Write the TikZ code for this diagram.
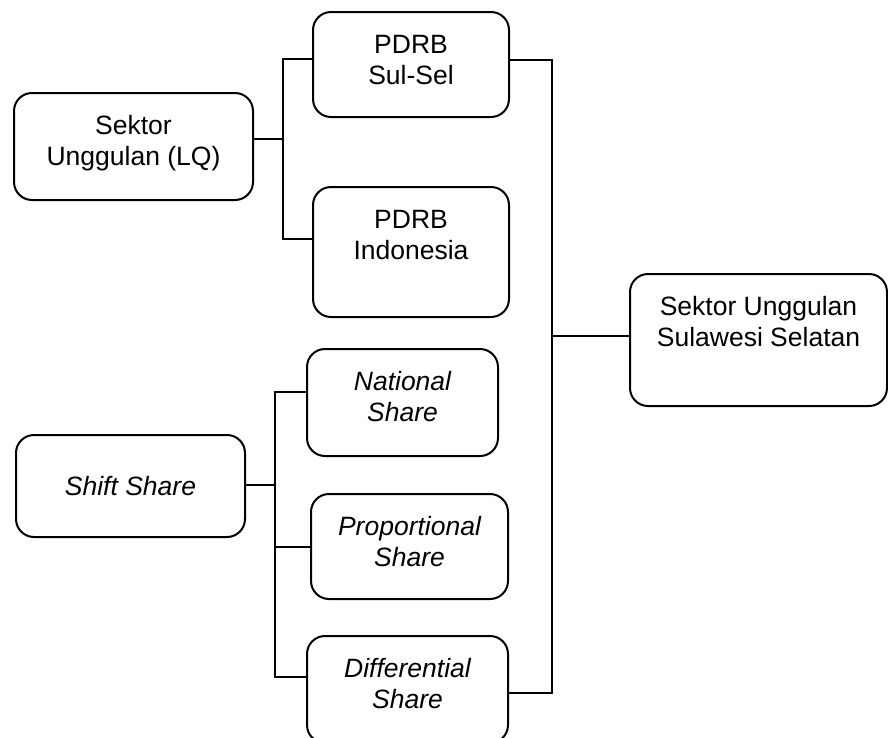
\documentclass[tikz,border=0pt]{standalone}
\usepackage{fontspec}
\setmainfont{Liberation Sans}
\newcommand{\toptext}[3]{\parbox[c][#2pt][t]{#1pt}{\centering\rule{0pt}{41pt}#3}}

\begin{document}
\begin{tikzpicture}[x=1pt, y=-1pt, line width=2pt,
    box/.style={draw, rounded corners=18pt, inner sep=0pt,
                font=\fontsize{26.5}{31}\selectfont}]
  \useasboundingbox (0,0) rectangle (888,737);

  % left column
  \node[box] (lq) at (133.5,146.5) {\toptext{239}{107}{Sektor\\Unggulan (LQ)}};
  \node[box, minimum width=229pt, minimum height=102pt, font=\fontsize{26.5}{31}\selectfont\itshape]
    (shift) at (130.5,486) {Shift Share};

  % middle column
  \node[box] (sulsel) at (411,64.5) {\toptext{196}{105}{PDRB\\Sul-Sel}};
  \node[box] (indo) at (411,252) {\toptext{196}{130}{PDRB\\Indonesia}};
  \node[box] (national) at (402.5,402.5) {\toptext{191}{107}{\itshape National\\Share}};
  \node[box] (proportional) at (409.5,546.5) {\toptext{197}{105}{\itshape Proportional\\Share}};
  \node[box] (differential) at (407.5,689.5) {\toptext{201}{107}{\itshape Differential\\Share}};

  % right column
  \node[box] (sulawesi) at (758.5,340) {\toptext{257}{132}{Sektor Unggulan\\Sulawesi Selatan}};

  % bus points
  \coordinate (lqbus) at (283,139);
  \coordinate (ssbus) at (275,485);
  \coordinate (rbus) at (552,336);

  % LQ branch
  \draw ([yshift=7.5pt]lq.east) -- (lqbus);
  \draw ([yshift=5.5pt]sulsel.west) -| (lqbus) |- ([yshift=13pt]indo.west);

  % shift share branch
  \draw ([yshift=1pt]shift.east) -- (ssbus);
  \draw ([yshift=10.5pt]national.west) -| (ssbus) |- ([yshift=12.5pt]differential.west);
  \draw (ssbus |- proportional.west) -- (proportional.west);

  % to the result
  \draw ([yshift=4.5pt]sulsel.east) -| (rbus) |- ([yshift=-3.5pt]differential.east);
  \draw (rbus) -- ([yshift=4pt]sulawesi.west);
\end{tikzpicture}
\end{document}
